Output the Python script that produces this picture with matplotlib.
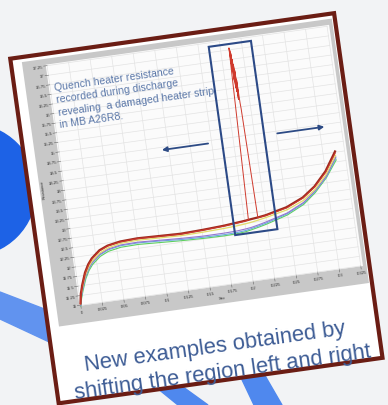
import matplotlib
matplotlib.use("Agg")
import matplotlib.pyplot as plt
from matplotlib.patches import Rectangle, Polygon, Circle
from matplotlib.transforms import Affine2D

plt.rcParams["font.family"] = ["Liberation Sans", "DejaVu Sans"]

# heater resistance (ohm) vs time (s) for the strips recorded in the discharge
t = [0.0, 0.002, 0.005, 0.01, 0.015, 0.02, 0.03, 0.04, 0.055, 0.075, 0.1, 0.125,
     0.15, 0.175, 0.19, 0.2, 0.207, 0.2155, 0.225, 0.25, 0.27, 0.285, 0.3, 0.314]
r_green = [10.98, 11.17, 11.37, 11.66, 11.86, 12.0, 12.18, 12.28, 12.34, 12.35, 12.32, 12.29,
           12.27, 12.26, 12.27, 12.29, 12.32, 12.36, 12.41, 12.57, 12.78, 13.04, 13.38, 13.8]
r_blue = [11.0, 11.2, 11.41, 11.7, 11.9, 12.04, 12.22, 12.32, 12.38, 12.39, 12.36, 12.32,
          12.3, 12.29, 12.3, 12.32, 12.35, 12.39, 12.44, 12.6, 12.81, 13.07, 13.4, 13.85]
r_purple = [11.0, 11.22, 11.43, 11.72, 11.92, 12.06, 12.24, 12.34, 12.4, 12.41, 12.38, 12.35,
            12.33, 12.33, 12.34, 12.36, 12.38, 12.42, 12.47, 12.62, 12.83, 13.09, 13.42, 13.88]
r_yellow = [11.03, 11.25, 11.46, 11.75, 11.95, 12.09, 12.27, 12.37, 12.44, 12.46, 12.44, 12.42,
            12.43, 12.45, 12.47, 12.49, 12.51, 12.54, 12.58, 12.7, 12.88, 13.12, 13.46, 13.92]
r_red = [11.04, 11.28, 11.5, 11.8, 12.0, 12.14, 12.32, 12.42, 12.48, 12.5, 12.48, 12.46,
         12.48, 12.51, 12.54, 12.56, 12.58, 12.6, 12.63, 12.75, 12.94, 13.18, 13.52, 13.98]
r_dark = [11.05, 11.3, 11.52, 11.82, 12.02, 12.16, 12.34, 12.43, 12.49, 12.51, 12.49, 12.47,
          12.49, 12.52, 12.55, 12.57, 12.59, 12.61, 12.64, 12.77, 12.96, 13.2, 13.55, 14.02]

# the damaged strip jumps up around 0.21 s
spike_t = [0.2045, 0.2098, 0.2101, 0.2104, 0.2107, 0.211, 0.2113, 0.2116, 0.2119, 0.2122,
           0.2125, 0.2128, 0.2131, 0.2134, 0.2137, 0.214, 0.2156]
spike_r = [12.58, 17.05, 16.5, 16.98, 16.2, 16.9, 16.0, 16.75, 15.9, 16.6, 15.7, 16.45,
           15.9, 16.2, 15.6, 15.45, 12.6]

x_labels = ["0", "0.025", "0.05", "0.075", "0.1", "0.125", "0.15", "0.175", "0.2",
            "0.225", "0.25", "0.275", "0.3", "0.325"]
y_labels = ["11", "11.25", "11.5", "11.75", "12", "12.25", "12.5", "12.75", "13", "13.25",
            "13.5", "13.75", "14", "14.25", "14.5", "14.75", "15", "15.25", "15.5", "15.75",
            "16", "16.25", "16.5", "16.75", "17", "17.25"]

note = ["Quench heater resistance", "recorded during discharge",
        "revealing  a damaged heater strip", "in MB A26R8."]
caption = ["New examples obtained by", "shifting the region left and right"]

fig = plt.figure(figsize=(3.88, 4.06), dpi=100)
fig.patch.set_facecolor("#f2f3f5")
ax = fig.add_axes([0, 0, 1, 1])
ax.set_xlim(0, 388)
ax.set_ylim(406, 0)
ax.axis("off")

# backdrop shapes
ax.add_patch(Circle((-30, 191), 66, color="#1d62e6", zorder=1))
ax.add_patch(Polygon([(0, 293), (60, 316), (60, 348), (0, 320)], color="#6193ef", zorder=1))
ax.add_patch(Polygon([(146, 380), (172, 380), (208, 406), (178, 406)], color="#4f88ee", zorder=1))
ax.add_patch(Polygon([(236, 368), (260, 368), (282, 406), (254, 406)], color="#4f88ee", zorder=1))

# tilted print: card pixels -> page, then chart data -> card
card = Affine2D().rotate_deg(-8).translate(8, 58) + ax.transData
chart = Affine2D().translate(0, -11).scale(870, -38.72).translate(37.5, 256) + card

ax.add_patch(Rectangle((2, 2), 327, 348, transform=card, facecolor="white",
                       edgecolor="#6b1d14", lw=3, zorder=2))
ax.add_patch(Rectangle((13, 7), 313, 267, transform=card, facecolor="#c8c8c8",
                       edgecolor="none", zorder=3))
ax.add_patch(Rectangle((-0.0015, 10.99), 0.329, 6.29, transform=chart,
                       facecolor="#fbfbfb", edgecolor="none", zorder=4))

x_vals = [float(s) for s in x_labels]
y_vals = [float(s) for s in y_labels]
for xv, lab in zip(x_vals, x_labels):
    ax.plot([xv, xv], [11, 17.25], transform=chart, color="#e3e3e3", lw=0.5, zorder=5)
    ax.plot([xv, xv], [11, 10.92], transform=chart, color="#666666", lw=0.4, zorder=5)
    ax.text(xv, 10.84, lab, transform=chart, rotation=8, rotation_mode="anchor",
            ha="center", va="center", fontsize=3.1, color="#333333", zorder=6)
for yv, lab in zip(y_vals, y_labels):
    ax.plot([0, 0.325], [yv, yv], transform=chart, color="#e3e3e3", lw=0.5, zorder=5)
    ax.plot([-0.004, 0], [yv, yv], transform=chart, color="#666666", lw=0.4, zorder=5)
    ax.text(-0.0045, yv, lab, transform=chart, rotation=8, rotation_mode="anchor",
            ha="right", va="center", fontsize=3.1, color="#333333", zorder=6)
ax.text(0.1625, 10.68, "Sec", transform=chart, rotation=8, rotation_mode="anchor",
        ha="center", va="center", fontsize=3.1, color="#333333", zorder=6)
ax.text(-0.0235, 14.12, "Resistance", transform=chart, rotation=98, rotation_mode="anchor",
        ha="center", va="center", fontsize=2.8, color="#333333", zorder=6)

# traces
ax.plot(t, r_green, transform=chart, color="#5fcf5f", lw=0.8, zorder=6)
ax.plot(t, r_blue, transform=chart, color="#6aa8e0", lw=0.8, zorder=6)
ax.plot(t, r_purple, transform=chart, color="#9575d0", lw=0.8, zorder=6)
ax.plot(t, r_yellow, transform=chart, color="#e3dc6a", lw=0.9, zorder=6)
ax.plot(t, r_dark, transform=chart, color="#9e2a1f", lw=1.6, zorder=7)
red_t = [v for v in t if v < spike_t[0]] + spike_t + [v for v in t if v > spike_t[-1]]
red_r = ([r for v, r in zip(t, r_red) if v < spike_t[0]] + spike_r
         + [r for v, r in zip(t, r_red) if v > spike_t[-1]])
ax.plot(red_t, red_r, transform=chart, color="#cf3a2d", lw=0.7, zorder=7)

# annotation on the chart
for i, line in enumerate(note):
    ax.text(42, 36 + 12.5 * i, line, transform=card, rotation=8, rotation_mode="anchor",
            ha="left", va="center", fontsize=7.6, color="#5a77a8", zorder=8)
ax.add_patch(Rectangle((0.187, 12.24), 0.049, 4.91, transform=chart, fill=False,
                       edgecolor="#2c4a87", lw=1.5, zorder=9))
arrow = dict(arrowstyle="-|>", color="#2d4b85", lw=1.3, mutation_scale=7)
ax.annotate("", xy=(0.114, 14.68), xytext=(0.174, 14.68), xycoords=chart,
            textcoords=chart, arrowprops=arrow, zorder=9)
ax.annotate("", xy=(0.309, 14.69), xytext=(0.248, 14.69), xycoords=chart,
            textcoords=chart, arrowprops=arrow, zorder=9)

# caption under the chart
ax.text(165, 315, caption[0], transform=card, rotation=8, rotation_mode="anchor",
        ha="center", va="center", fontsize=15.8, color="#3d5c95", zorder=10)
ax.text(169, 342, caption[1], transform=card, rotation=8, rotation_mode="anchor",
        ha="center", va="center", fontsize=15.8, color="#3d5c95", zorder=10)

fig.savefig("out.png", dpi=100, facecolor=fig.get_facecolor())
